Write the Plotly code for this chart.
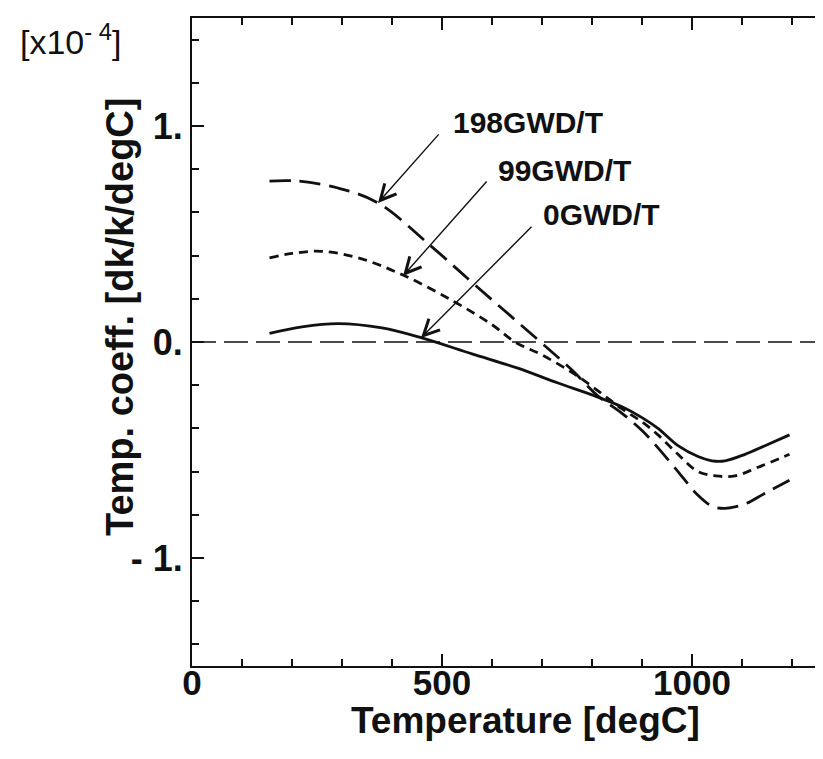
import plotly.graph_objects as go

# ---- data ----
temp_0 = [155, 220, 292, 380, 458, 560, 650, 732, 800, 860, 900, 932, 972, 1012, 1040, 1066, 1106, 1146, 1195]
coef_0 = [0.04, 0.07, 0.085, 0.065, 0.02, -0.055, -0.12, -0.19, -0.245, -0.30, -0.35, -0.40, -0.48, -0.53, -0.55, -0.55, -0.52, -0.48, -0.43]

temp_99 = [155, 200, 258, 332, 422, 522, 600, 646, 700, 766, 820, 860, 900, 932, 972, 1012, 1048, 1086, 1132, 1195]
coef_99 = [0.39, 0.41, 0.42, 0.39, 0.31, 0.19, 0.08, 0.0, -0.06, -0.15, -0.24, -0.31, -0.37, -0.43, -0.52, -0.60, -0.62, -0.62, -0.58, -0.52]

temp_198 = [155, 212, 292, 372, 478, 566, 692, 760, 812, 860, 900, 932, 972, 1012, 1040, 1066, 1106, 1146, 1195]
coef_198 = [0.745, 0.745, 0.713, 0.644, 0.444, 0.264, 0.01, -0.13, -0.25, -0.33, -0.41, -0.49, -0.60, -0.71, -0.76, -0.77, -0.75, -0.70, -0.64]

zero_line_x = [0, 1300]
zero_line_y = [0, 0]

labels = ["198GWD/T", "99GWD/T", "0GWD/T"]
label_x = [518, 608, 698]
label_y = [1.014, 0.796, 0.588]
arrow_tip_x = [372, 422, 458]
arrow_tip_y = [0.644, 0.306, 0.019]
arrow_tail_x = [496, 592, 682]
arrow_tail_y = [0.968, 0.75, 0.54]

x_tickvals = [0, 500, 1000]
x_ticktext = ["0", "500", "1000"]
y_tickvals = [-1, 0, 1]
y_ticktext = ["- 1.", "0.", "1."]

FONT = "Liberation Sans"
BLACK = "#111111"

fig = go.Figure()

fig.add_trace(go.Scatter(x=zero_line_x, y=zero_line_y, mode="lines",
                         line=dict(color=BLACK, width=1.6, dash="24px,8px"),
                         showlegend=False, hoverinfo="skip"))
fig.add_trace(go.Scatter(x=temp_0, y=coef_0, mode="lines", line_shape="spline",
                         line=dict(color=BLACK, width=2.8), name="0GWD/T", showlegend=False))
fig.add_trace(go.Scatter(x=temp_99, y=coef_99, mode="lines", line_shape="spline",
                         line=dict(color=BLACK, width=2.8, dash="9px,6px"), name="99GWD/T", showlegend=False))
fig.add_trace(go.Scatter(x=temp_198, y=coef_198, mode="lines", line_shape="spline",
                         line=dict(color=BLACK, width=2.8, dash="21px,9px"), name="198GWD/T", showlegend=False))

# invisible trace on right axis to carry mirrored ticks without a spine
fig.add_trace(go.Scatter(x=[None], y=[None], yaxis="y2", showlegend=False, hoverinfo="skip"))

for lab, lx, ly, tx, ty, ax, ay in zip(labels, label_x, label_y, arrow_tip_x, arrow_tip_y, arrow_tail_x, arrow_tail_y):
    fig.add_annotation(x=lx, y=ly, text=lab, showarrow=False, xanchor="left", yanchor="middle",
                       font=dict(family=FONT, size=30, color=BLACK, weight="bold"))
    fig.add_annotation(x=tx, y=ty, ax=ax, ay=ay, axref="x", ayref="y", text="",
                       showarrow=True, arrowhead=5, arrowsize=2.2, arrowwidth=1.4, arrowcolor=BLACK)

# exponent marker, top-left
fig.add_annotation(xref="paper", yref="paper", x=-184 / 639 + 10 / 639, y=1 + 2 / 648,
                   xanchor="left", yanchor="top",
                   text="[x10<sup>- 4</sup>]", showarrow=False,
                   font=dict(family=FONT, size=34, color=BLACK))

# y-axis title
fig.add_annotation(xref="paper", yref="paper", x=(112 - 184) / 639, y=(658 - 309) / 648, textangle=-90,
                   xanchor="center", yanchor="middle",
                   text="Temp. coeff. [dk/k/degC]", showarrow=False,
                   font=dict(family=FONT, size=38, color=BLACK, weight="bold"))

# x-axis title
fig.add_annotation(xref="paper", yref="paper", x=(517 - 184) / 639, y=-(690 - 658) / 648,
                   xanchor="center", yanchor="top",
                   text="Temperature [degC]", showarrow=False,
                   font=dict(family=FONT, size=37, color=BLACK, weight="bold"))

fig.update_layout(
    width=823, height=759,
    margin=dict(l=184, r=0, t=10, b=101),
    paper_bgcolor="white", plot_bgcolor="white",
    font=dict(family=FONT, color=BLACK),
    xaxis=dict(range=[0, 1278], showgrid=False, zeroline=False,
               showline=True, linecolor=BLACK, linewidth=2.2, mirror="ticks",
               ticks="inside", ticklen=12, tickwidth=2, tickcolor=BLACK,
               tickvals=x_tickvals, ticktext=x_ticktext, ticklabelstandoff=-15,
               tickfont=dict(family=FONT, size=35, color=BLACK, weight="bold"),
               minor=dict(dtick=100, tick0=0, ticks="inside", ticklen=7, tickwidth=2, tickcolor=BLACK)),
    yaxis=dict(range=[-1.5, 1.5], showgrid=False, zeroline=False,
               showline=True, linecolor=BLACK, linewidth=2.2, mirror=False,
               ticks="inside", ticklen=12, tickwidth=2, tickcolor=BLACK,
               tickvals=y_tickvals, ticktext=y_ticktext,
               tickfont=dict(family=FONT, size=36, color=BLACK, weight="bold"),
               minor=dict(dtick=0.2, tick0=0, ticks="inside", ticklen=7, tickwidth=2, tickcolor=BLACK)),
    yaxis2=dict(range=[-1.5, 1.5], overlaying="y", side="right", showgrid=False, zeroline=False,
                showline=False, showticklabels=False,
                ticks="inside", ticklen=12, tickwidth=2, tickcolor=BLACK,
                tickvals=y_tickvals,
                minor=dict(dtick=0.2, tick0=0, ticks="inside", ticklen=7, tickwidth=2, tickcolor=BLACK)),
)

fig.write_html("out.html")
